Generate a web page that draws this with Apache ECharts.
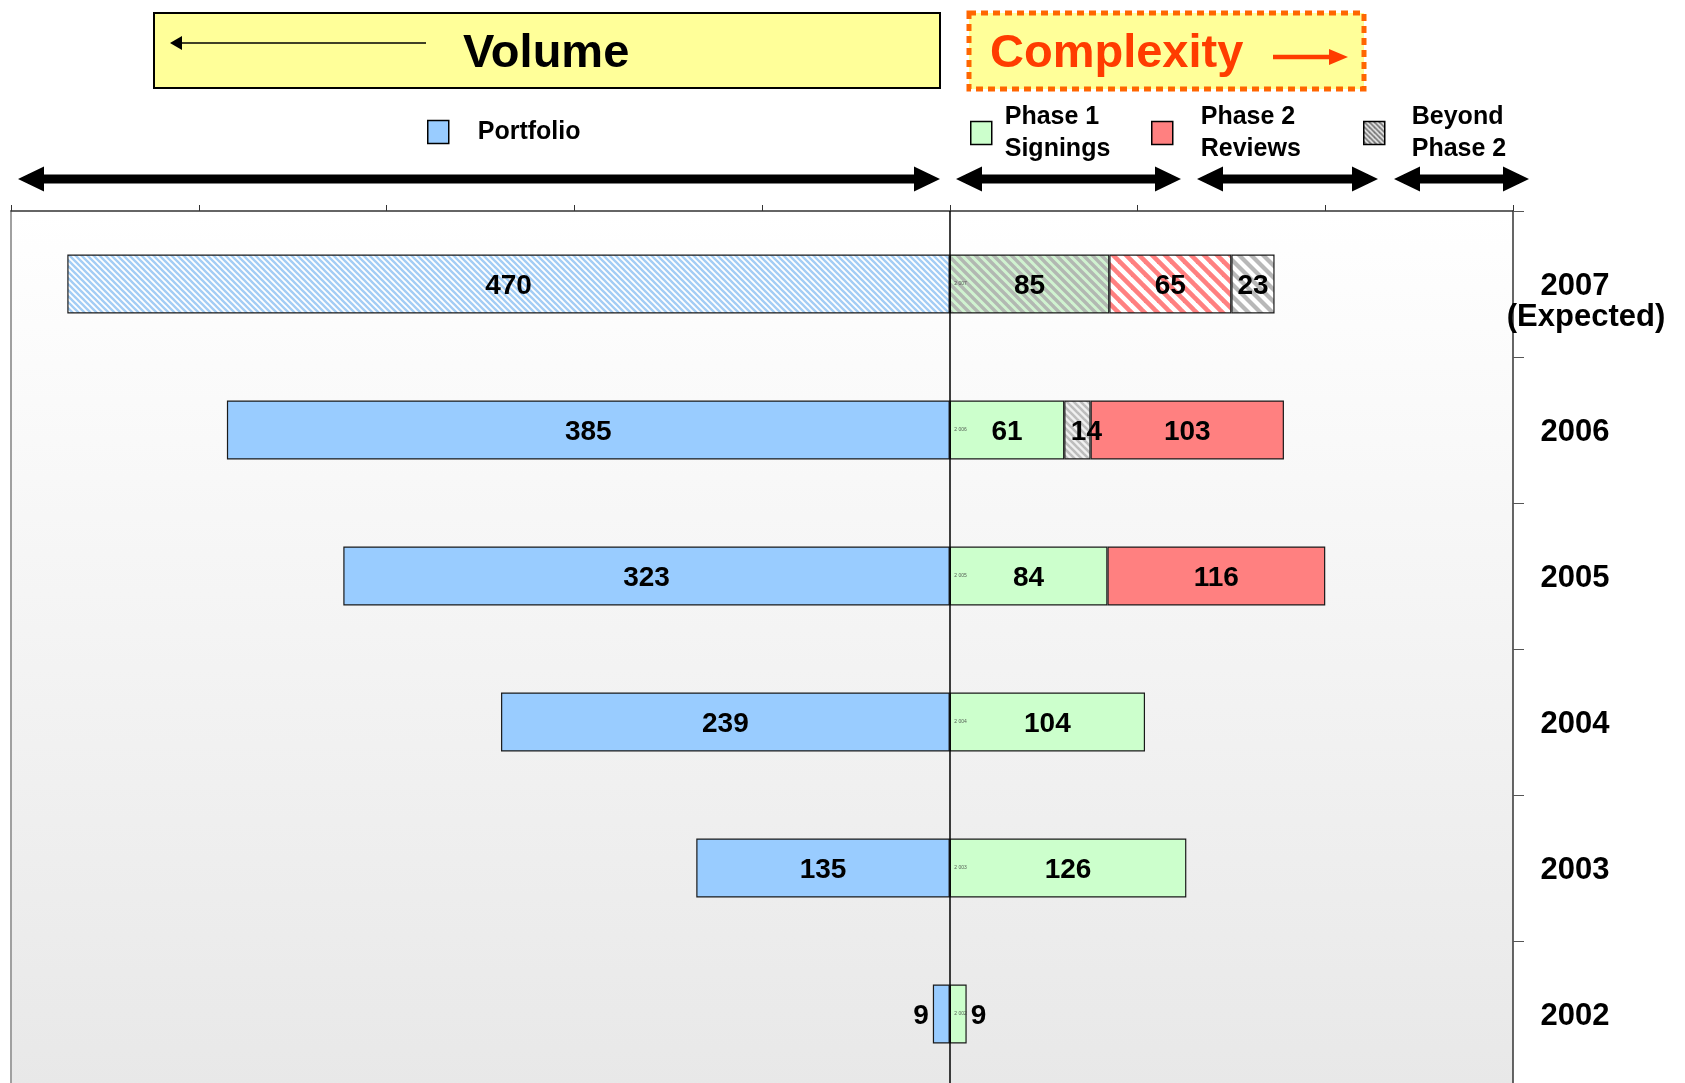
<!DOCTYPE html>
<html>
<head>
<meta charset="utf-8">
<title>Volume and Complexity</title>
<script src="https://cdn.jsdelivr.net/npm/echarts@6/dist/echarts.min.js"></script>
<style>
  html, body { margin: 0; padding: 0; background: #ffffff; }
  #chart { width: 1685px; height: 1083px; }
</style>
</head>
<body>
<div id="chart"></div>
<script>
// Years, top to bottom
const years = ['2007', '2006', '2005', '2004', '2003', '2002'];
// Right-hand tick labels
const yearLabels = ['2007\n(Expected)', '2006', '2005', '2004', '2003', '2002'];
// Volume (drawn to the left of zero)
const portfolio = [470, 385, 323, 239, 135, 9];
// Complexity segments (drawn to the right of zero)
const phase1 = [85, 61, 84, 104, 126, 9];
const phase2 = [65, 103, 116, null, null, null];
const beyond = [23, 14, null, null, null, null];
// Years where the "Beyond Phase 2" segment sits before "Phase 2 Reviews"
const beyondFirst = ['2006'];

const FONT = '"Liberation Sans", Arial, Helvetica, sans-serif';

// Diagonal stripe tiles used as fill patterns
function stripes(bg, fg, period, width) {
  const c = document.createElement('canvas');
  c.width = period; c.height = period;
  const ctx = c.getContext('2d');
  ctx.fillStyle = bg;
  ctx.fillRect(0, 0, period, period);
  ctx.strokeStyle = fg;
  ctx.lineWidth = width;
  ctx.lineCap = 'square';
  for (let k = -1; k <= 1; k++) {
    ctx.beginPath();
    ctx.moveTo(k * period, 0);
    ctx.lineTo(k * period + period, period);
    ctx.stroke();
  }
  return { image: c, repeat: 'repeat' };
}

const BLUE = '#99ccff', GREEN = '#ccffcc', RED = '#ff8080';
const patBlue = stripes('#ffffff', '#a3cdf5', 6, 2.4);
const patGreen = stripes('#d0f2d0', '#b2b8b2', 9, 3.4);
const patRed = stripes('#ffffff', '#ff8080', 13, 4.6);
const patGrey = stripes('#ffffff', '#b8b8b8', 12, 4.2);
const patGreySmall = stripes('#f0f0f0', '#bdbdbd', 7, 2.6);
const patLegend = stripes('#f2f2f2', '#6e6e6e', 5, 1.8);

const expectedIdx = 0; // forecast year uses hatched fills

const labelBase = {
  show: true, position: 'inside', color: '#000',
  fontSize: 28, fontWeight: 'bold', fontFamily: FONT,
  offset: [0, 2],
  formatter: p => Math.abs(p.value)
};
const barBorder = { borderColor: '#1a1a1a', borderWidth: 1.2 };

function item(v, i, pattern, extra) {
  if (v == null) return '-';
  const d = { value: v };
  if (i === expectedIdx && pattern) d.itemStyle = { color: pattern };
  if (extra) Object.assign(d, extra);
  return d;
}

const last = years.length - 1;

const portfolioData = portfolio.map((v, i) =>
  item(-v, i, patBlue, i === last ? { label: { position: 'left', distance: 4 } } : null));
const phase1Data = phase1.map((v, i) =>
  item(v, i, patGreen, i === last ? { label: { position: 'right', distance: 4 } } : null));
const phase2Data = phase2.map((v, i) => item(v, i, patRed));
const beyondEarly = beyond.map((v, i) =>
  beyondFirst.includes(years[i]) && v != null
    ? { value: v, itemStyle: { color: patGreySmall }, label: { offset: [9, 2] } }
    : '-');
const beyondLate = beyond.map((v, i) =>
  !beyondFirst.includes(years[i]) ? item(v, i, patGrey) : '-');

const BEYOND = 'Beyond\nPhase 2';

function barSeries(name, data, color, extra) {
  return Object.assign({
    name, type: 'bar', stack: 'all', data,
    barWidth: 59,
    itemStyle: Object.assign({ color }, barBorder),
    label: labelBase,
    emphasis: { disabled: true }
  }, extra || {});
}

// Double-headed arrow shape for the header bands
function doubleArrow(x0, x1, yc) {
  const H = 26, h = 12.5, t = 4.5;
  return {
    type: 'polygon',
    shape: {
      points: [
        [x0, yc], [x0 + H, yc - h], [x0 + H, yc - t], [x1 - H, yc - t], [x1 - H, yc - h],
        [x1, yc], [x1 - H, yc + h], [x1 - H, yc + t], [x0 + H, yc + t], [x0 + H, yc + h]
      ]
    },
    style: { fill: '#000' },
    silent: true
  };
}

function legendFor(name, left, top, gap) {
  return {
    data: [name],
    left, top,
    padding: 0,
    icon: 'rect',
    itemWidth: 21, itemHeight: 23,
    selectedMode: false,
    itemStyle: { borderColor: '#000', borderWidth: 1.5 },
    textStyle: {
      fontSize: 25, fontWeight: 'bold', fontFamily: FONT, color: '#000',
      lineHeight: 32, padding: [8, 0, 0, gap]
    }
  };
}

const yLabelRich = {
  y: { fontSize: 31, fontWeight: 'bold', fontFamily: FONT, color: '#000', lineHeight: 31 },
  e: { fontSize: 31, fontWeight: 'bold', fontFamily: FONT, color: '#000', lineHeight: 31,
       padding: [0, 0, 0, 22] }
};

const chart = echarts.init(document.getElementById('chart'), null, { renderer: 'canvas' });

chart.setOption({
  animation: false,
  backgroundColor: '#ffffff',
  textStyle: { fontFamily: FONT },
  grid: {
    left: 11, top: 211, width: 1502, height: 876,
    outerBoundsMode: 'none',
    containLabel: false,
    show: true, borderWidth: 0,
    backgroundColor: {
      type: 'linear', x: 0, y: 0, x2: 0, y2: 1,
      colorStops: [{ offset: 0, color: '#ffffff' }, { offset: 1, color: '#e8e8e8' }]
    }
  },
  legend: [
    legendFor('Portfolio', 427, 112, 24),
    legendFor('Phase 1\nSignings', 970, 97, 8),
    legendFor('Phase 2\nReviews', 1151, 97, 23),
    legendFor(BEYOND, 1363, 97, 22)
  ],
  xAxis: {
    type: 'value', position: 'top',
    min: -500, max: 300, interval: 100,
    axisLine: { show: true, onZero: false, lineStyle: { color: '#333', width: 1.5 } },
    axisTick: { show: true, length: 6, lineStyle: { color: '#333', width: 1 } },
    axisLabel: { show: false },
    splitLine: { show: false }
  },
  yAxis: [
    {
      type: 'category', data: years, inverse: true, position: 'right',
      axisLine: { show: true, onZero: false, lineStyle: { color: '#333', width: 1.5 } },
      axisTick: { show: true, length: 11, lineStyle: { color: '#555', width: 1 } },
      axisLabel: {
        margin: 62, align: 'center',
        fontSize: 31, fontWeight: 'bold', fontFamily: FONT, color: '#000',
        lineHeight: 31,
        padding: [4, 0, 0, 0],
        rich: yLabelRich,
        formatter: (v, i) => {
          const lines = yearLabels[i].split('\n');
          if (lines.length === 1) return '{y|' + lines[0] + '}';
          // keep the year line centred on its bar with the note beneath it
          return '{y| }\n{y|' + lines[0] + '}\n{e|' + lines[1] + '}';
        }
      }
    },
    {
      type: 'category', data: years, inverse: true, position: 'left',
      axisLine: { show: true, onZero: false, lineStyle: { color: '#a0a0a0', width: 2 } },
      axisTick: { show: false },
      axisLabel: { show: false }
    }
  ],
  series: [
    barSeries('Portfolio', portfolioData, BLUE),
    barSeries('Phase 1\nSignings', phase1Data, GREEN, {
      markLine: {
        silent: true, symbol: ['none', 'none'],
        label: { show: false },
        lineStyle: { color: '#000', width: 1.5, type: 'solid' },
        data: [{ xAxis: 0 }]
      }
    }),
    barSeries(BEYOND, beyondEarly, patLegend),
    barSeries('Phase 2\nReviews', phase2Data, RED),
    barSeries(BEYOND, beyondLate, patLegend),
    {
      // small year tags at the start of each complexity bar
      type: 'scatter', name: 'tags', z: 5, silent: true,
      data: years.map(y => [0, y]),
      symbolSize: 1,
      itemStyle: { color: 'rgba(0,0,0,0)' },
      label: {
        show: true, position: 'right', distance: 4,
        fontSize: 5, color: '#333', fontFamily: FONT,
        formatter: p => p.value[1].slice(0, 1) + ' ' + p.value[1].slice(1)
      }
    }
  ],
  graphic: [
    // Volume banner
    { type: 'rect', shape: { x: 154, y: 13, width: 786, height: 75 },
      style: { fill: '#ffff99', stroke: '#000', lineWidth: 2 }, silent: true },
    { type: 'line', shape: { x1: 180, y1: 43, x2: 426, y2: 43 },
      style: { stroke: '#000', lineWidth: 1.6 }, silent: true },
    { type: 'polygon', shape: { points: [[170, 43], [182, 36], [182, 50]] },
      style: { fill: '#000' }, silent: true },
    { type: 'text', x: 463, y: 54,
      style: { text: 'Volume', fontSize: 47, fontWeight: 'bold', fontFamily: FONT,
               fill: '#000', textAlign: 'left', textVerticalAlign: 'middle' }, silent: true },
    // Complexity banner
    { type: 'rect', shape: { x: 969, y: 13, width: 395, height: 76 },
      style: { fill: '#ffff99', stroke: '#ff6600', lineWidth: 5, lineDash: [7, 5] }, silent: true },
    { type: 'text', x: 990, y: 54,
      style: { text: 'Complexity', fontSize: 47, fontWeight: 'bold', fontFamily: FONT,
               fill: '#ff3c00', textAlign: 'left', textVerticalAlign: 'middle' }, silent: true },
    { type: 'line', shape: { x1: 1273, y1: 57, x2: 1332, y2: 57 },
      style: { stroke: '#ff3c00', lineWidth: 4.5 }, silent: true },
    { type: 'polygon', shape: { points: [[1348, 57], [1329, 49], [1329, 65]] },
      style: { fill: '#ff3c00' }, silent: true },
    // band arrows
    doubleArrow(18, 940, 179),
    doubleArrow(956, 1181, 179),
    doubleArrow(1197, 1378, 179),
    doubleArrow(1394, 1529, 179)
  ]
});
</script>
</body>
</html>
